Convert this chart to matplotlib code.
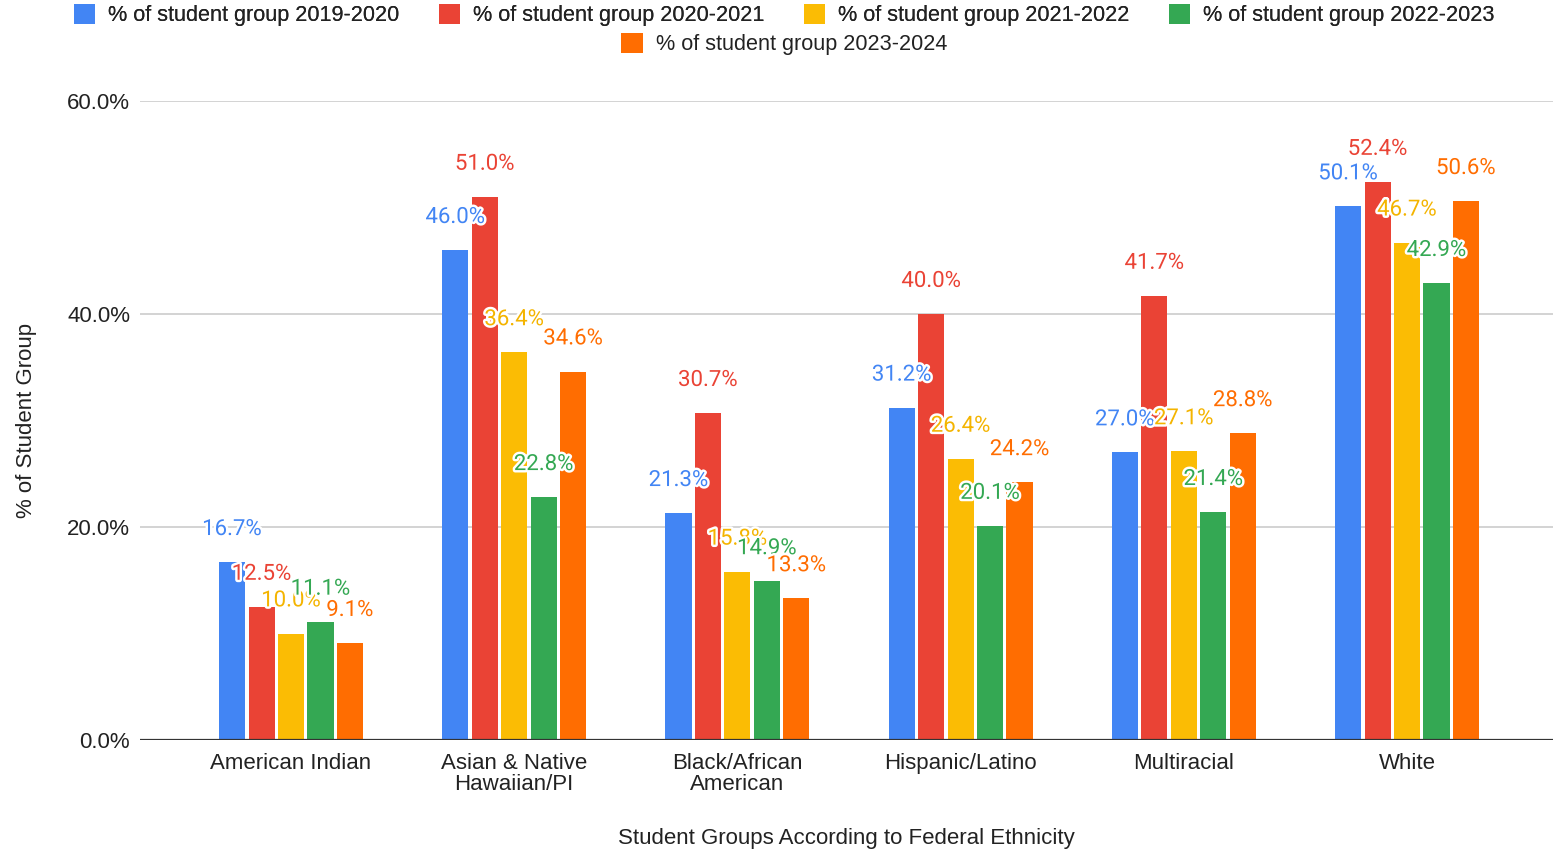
"""
Percentage of each student group by federal ethnicity, 2019-2020 through 2023-2024.
"""

import numpy as np
import matplotlib.pyplot as plt
import matplotlib.patheffects as pe
from matplotlib.patches import Patch

# Data
categories = ["American Indian", "Asian & Native\nHawaiian/PI", "Black/African\nAmerican",
              "Hispanic/Latino", "Multiracial", "White"]
years = ["2019-2020", "2020-2021", "2021-2022", "2022-2023", "2023-2024"]
pct_2019_2020 = [16.7, 46.0, 21.3, 31.2, 27.0, 50.1]
pct_2020_2021 = [12.5, 51.0, 30.7, 40.0, 41.7, 52.4]
pct_2021_2022 = [10.0, 36.4, 15.8, 26.4, 27.1, 46.7]
pct_2022_2023 = [11.1, 22.8, 14.9, 20.1, 21.4, 42.9]
pct_2023_2024 = [9.1, 34.6, 13.3, 24.2, 28.8, 50.6]

series = [pct_2019_2020, pct_2020_2021, pct_2021_2022, pct_2022_2023, pct_2023_2024]
colors = ["#4285F4", "#EA4335", "#FBBC04", "#34A853", "#FF6D01"]
label_colors = ["#4285F4", "#EA4335", "#F4B400", "#34A853", "#FF6D01"]

axis_font = "Liberation Sans"
value_font = "Roboto"

fig = plt.figure(figsize=(15.53, 8.51), dpi=100)
ax = fig.add_axes([0.0901, 0.1304, 0.9099, 0.7509])

x = np.arange(len(categories))
step = 0.132
width = 0.117

halo = [pe.withStroke(linewidth=3.5, foreground="white")]

for i, (vals, col, lcol) in enumerate(zip(series, colors, label_colors)):
    pos = x + (i - 2) * step
    ax.bar(pos, vals, width=width, color=col, zorder=2)
    for px, v in zip(pos, vals):
        ax.annotate(f"{v:.1f}%", (px, v), xytext=(0, 23.5), textcoords="offset points",
                    ha="center", va="center", fontsize=16, family=value_font,
                    color=lcol, path_effects=halo, zorder=5)

ax.set_xlim(-0.677, 5.654)
ax.set_ylim(0, 60)
ax.set_yticks([0, 20, 40, 60])
ax.set_yticklabels(["0.0%", "20.0%", "40.0%", "60.0%"], family=axis_font, fontsize=16, color="#222222")
ax.set_xticks(x)
ax.set_xticklabels(categories, family=axis_font, fontsize=16, color="#222222", linespacing=1.0)
ax.tick_params(axis="both", length=0)
ax.tick_params(axis="y", pad=7)
ax.tick_params(axis="x", pad=9)

ax.grid(axis="y", color="#cccccc", linewidth=1.2, zorder=0)
ax.axhline(0, color="#333333", linewidth=1.6, zorder=3)
for s in ax.spines.values():
    s.set_visible(False)

ax.set_xlabel("Student Groups According to Federal Ethnicity", family=axis_font,
              fontsize=16, color="#222222", labelpad=24)
ax.set_ylabel("% of Student Group", family=axis_font, fontsize=16, color="#222222")
ax.yaxis.set_label_coords(-0.073, 0.5)

# Legend: first four years on one row, the last centred underneath
handles = [Patch(facecolor=c, edgecolor="none") for c in colors]
labels = [f"% of student group {y}" for y in years]
leg_kw = dict(frameon=False, prop={"family": axis_font, "size": 15.6}, handlelength=1.0,
              handleheight=1.0, handletextpad=0.6, columnspacing=1.8, labelcolor="#222222")
leg1 = fig.legend(handles[:4], labels[:4], ncol=4, loc="center", bbox_to_anchor=(0.505, 0.982), **leg_kw)
fig.add_artist(leg1)
fig.legend(handles[4:], labels[4:], ncol=1, loc="center", bbox_to_anchor=(0.505, 0.948), **leg_kw)

fig.savefig("out.png", dpi=100)
